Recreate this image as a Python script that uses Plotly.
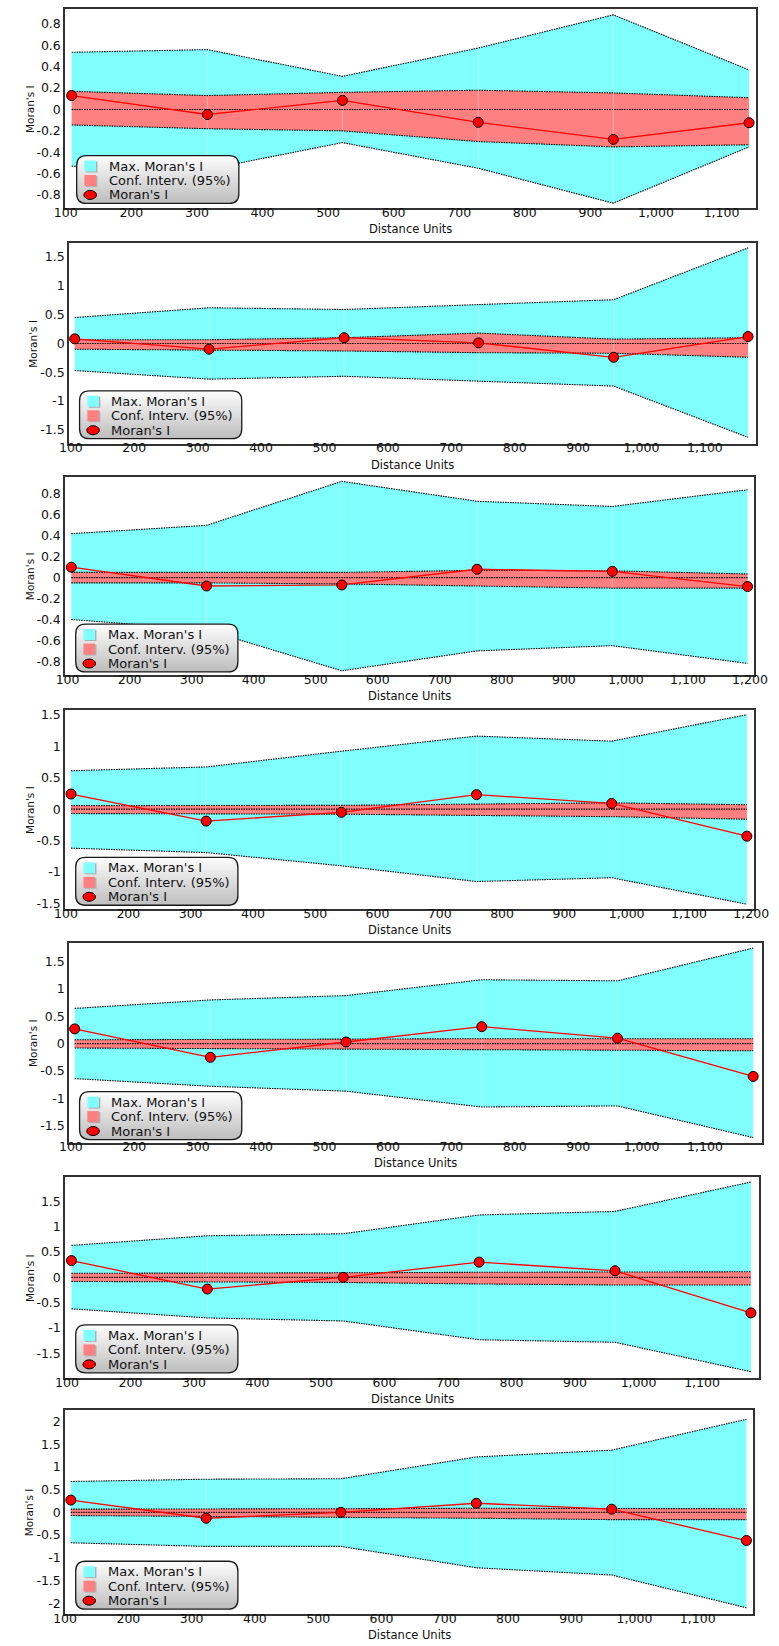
import math
import plotly.graph_objects as go

# ---------------- data ----------------
DIST = [
    [109, 316, 522, 729, 935, 1142],
    [106, 318, 531, 743, 956, 1168],
    [106, 324, 542, 760, 978, 1196],
    [108, 325, 542, 759, 976, 1193],
    [106, 320, 534, 748, 962, 1176],
    [107, 321, 535, 749, 963, 1177],
    [109, 323, 536, 750, 964, 1177],
]
MAX_UP = [
    [0.535, 0.56, 0.31, 0.575, 0.885, 0.37],
    [0.45, 0.62, 0.59, 0.68, 0.76, 1.66],
    [0.42, 0.50, 0.92, 0.73, 0.68, 0.84],
    [0.61, 0.67, 0.92, 1.16, 1.08, 1.50],
    [0.645, 0.80, 0.88, 1.17, 1.15, 1.75],
    [0.63, 0.82, 0.86, 1.23, 1.30, 1.88],
    [0.68, 0.73, 0.74, 1.22, 1.37, 2.05],
]
MAX_LO = [
    [-0.53, -0.56, -0.31, -0.55, -0.876, -0.35],
    [-0.47, -0.62, -0.57, -0.66, -0.74, -1.63],
    [-0.40, -0.50, -0.89, -0.70, -0.65, -0.82],
    [-0.62, -0.69, -0.90, -1.15, -1.09, -1.51],
    [-0.64, -0.78, -0.87, -1.16, -1.14, -1.72],
    [-0.62, -0.80, -0.86, -1.23, -1.28, -1.86],
    [-0.67, -0.75, -0.75, -1.22, -1.38, -2.10],
]
CI_UP = [
    [0.17, 0.13, 0.16, 0.18, 0.155, 0.11],
    [0.065, 0.065, 0.10, 0.18, 0.075, 0.10],
    [0.05, 0.05, 0.05, 0.07, 0.065, 0.035],
    [0.055, 0.055, 0.06, 0.08, 0.10, 0.07],
    [0.07, 0.08, 0.08, 0.09, 0.09, 0.09],
    [0.08, 0.08, 0.09, 0.10, 0.11, 0.11],
    [0.07, 0.07, 0.08, 0.09, 0.09, 0.08],
]
CI_LO = [
    [-0.145, -0.18, -0.20, -0.30, -0.35, -0.33],
    [-0.10, -0.11, -0.13, -0.16, -0.17, -0.24],
    [-0.05, -0.05, -0.06, -0.08, -0.10, -0.10],
    [-0.07, -0.07, -0.08, -0.10, -0.12, -0.16],
    [-0.08, -0.09, -0.10, -0.12, -0.13, -0.13],
    [-0.08, -0.09, -0.10, -0.13, -0.15, -0.15],
    [-0.07, -0.09, -0.10, -0.13, -0.16, -0.16],
]
MORAN = [
    [0.13, -0.047, 0.085, -0.12, -0.28, -0.124],
    [0.08, -0.10, 0.10, 0.01, -0.24, 0.12],
    [0.10, -0.08, -0.07, 0.08, 0.06, -0.085],
    [0.24, -0.19, -0.05, 0.23, 0.09, -0.43],
    [0.27, -0.25, 0.03, 0.31, 0.10, -0.60],
    [0.33, -0.23, 0.00, 0.30, 0.13, -0.70],
    [0.27, -0.13, 0.00, 0.20, 0.07, -0.62],
]
Y_TICKS = [
    [-0.8, -0.6, -0.4, -0.2, 0, 0.2, 0.4, 0.6, 0.8],
    [-1.5, -1, -0.5, 0, 0.5, 1, 1.5],
    [-0.8, -0.6, -0.4, -0.2, 0, 0.2, 0.4, 0.6, 0.8],
    [-1.5, -1, -0.5, 0, 0.5, 1, 1.5],
    [-1.5, -1, -0.5, 0, 0.5, 1, 1.5],
    [-1.5, -1, -0.5, 0, 0.5, 1, 1.5],
    [-2, -1.5, -1, -0.5, 0, 0.5, 1, 1.5, 2],
]
X_TICKS = [
    [100, 200, 300, 400, 500, 600, 700, 800, 900, 1000, 1100],
    [100, 200, 300, 400, 500, 600, 700, 800, 900, 1000, 1100],
    [100, 200, 300, 400, 500, 600, 700, 800, 900, 1000, 1100, 1200],
    [100, 200, 300, 400, 500, 600, 700, 800, 900, 1000, 1100, 1200],
    [100, 200, 300, 400, 500, 600, 700, 800, 900, 1000, 1100],
    [100, 200, 300, 400, 500, 600, 700, 800, 900, 1000, 1100],
    [100, 200, 300, 400, 500, 600, 700, 800, 900, 1000, 1100],
]
LEGEND_LABELS = ["Max. Moran's I", "Conf. Interv. (95%)", "Moran's I"]
X_TITLE = "Distance Units"
Y_TITLE = "Moran's I"

# ---------------- layout (pixels) ----------------
W, H = 779, 1646
BOXES = [(55, 771, 6, 206), (59, 771, 241, 442), (55, 769, 475, 674),
         (55, 769, 709, 909), (59, 777, 943, 1143), (55, 774, 1178, 1379),
         (55, 768, 1411, 1616)]
X_RANGES = [(99, 1153), (97, 1181), (96, 1207), (98.5, 1205), (97, 1190),
            (97, 1190), (100, 1188)]
Y_RANGES = [(-0.925, 0.94), (-1.74, 1.74), (-0.93, 0.966), (-1.59, 1.577),
            (-1.81, 1.84), (-1.98, 1.97), (-2.24, 2.26)]
LEG_POS = [(67, 153), (70, 389), (66, 623), (66, 857), (70, 1092), (66, 1326),
           (66, 1563)]
LEG_W, LEG_H = 168, 48

CYAN = "rgb(128,255,255)"
PINK = "rgb(255,128,128)"
FONT = "DejaVu Sans"


def px(x):
    return x / W


def py(y):
    return 1 - y / H


fig = go.Figure()
shapes = []
annotations = []

for k in range(7):
    xs = "x" if k == 0 else f"x{k+1}"
    ys = "y" if k == 0 else f"y{k+1}"
    d = DIST[k]
    # cyan band
    fig.add_trace(go.Scatter(x=d, y=MAX_LO[k], mode="lines", line=dict(width=0),
                             xaxis=xs, yaxis=ys, showlegend=False, hoverinfo="skip"))
    fig.add_trace(go.Scatter(x=d, y=MAX_UP[k], mode="lines", line=dict(width=0),
                             fill="tonexty", fillcolor=CYAN,
                             xaxis=xs, yaxis=ys, showlegend=False, hoverinfo="skip"))
    # red band
    fig.add_trace(go.Scatter(x=d, y=CI_LO[k], mode="lines", line=dict(width=0),
                             xaxis=xs, yaxis=ys, showlegend=False, hoverinfo="skip"))
    fig.add_trace(go.Scatter(x=d, y=CI_UP[k], mode="lines", line=dict(width=0),
                             fill="tonexty", fillcolor=PINK,
                             xaxis=xs, yaxis=ys, showlegend=False, hoverinfo="skip"))
    # faint vertical seams at each lag
    sx, sy = [], []
    for i, xv in enumerate(d[1:-1], start=1):
        sx += [xv, xv, None]
        sy += [MAX_LO[k][i], MAX_UP[k][i], None]
    fig.add_trace(go.Scatter(x=sx, y=sy, mode="lines",
                             line=dict(color="rgba(255,255,255,0.35)", width=1),
                             xaxis=xs, yaxis=ys, showlegend=False, hoverinfo="skip"))
    # dotted boundaries + zero line
    bx, by = [], []
    for arr in (MAX_UP[k], MAX_LO[k], CI_UP[k], CI_LO[k]):
        bx += list(d) + [None]
        by += list(arr) + [None]
    bx += [d[0], d[-1]]
    by += [0, 0]
    fig.add_trace(go.Scatter(x=bx, y=by, mode="lines",
                             line=dict(color="#000000", width=1.1, dash="1.5px,1px"),
                             xaxis=xs, yaxis=ys, showlegend=False, hoverinfo="skip"))
    # Moran's I
    fig.add_trace(go.Scatter(x=d, y=MORAN[k], mode="lines+markers",
                             line=dict(color="#ff0000", width=1.3),
                             marker=dict(size=10, color="#ff0000",
                                         line=dict(color="#000000", width=1)),
                             xaxis=xs, yaxis=ys, showlegend=False))

    L, R, T, B = BOXES[k]
    common = dict(showgrid=False, zeroline=False, showline=True, mirror=True,
                  linecolor="#333333", linewidth=1.6, ticks="",
                  tickfont=dict(family=FONT, size=12.5, color="#111111"))
    fig.update_layout(**{
        ("xaxis" if k == 0 else f"xaxis{k+1}"): dict(
            domain=[px(L), px(R)], range=list(X_RANGES[k]), anchor=ys,
            tickvals=X_TICKS[k], ticktext=[f"{v:,}" for v in X_TICKS[k]],
            ticklabelstandoff=-8, ticklabeloverflow="allow", **common),
        ("yaxis" if k == 0 else f"yaxis{k+1}"): dict(
            domain=[py(B), py(T)], range=list(Y_RANGES[k]), anchor=xs,
            tickvals=Y_TICKS[k], ticktext=[f"{v:g}" for v in Y_TICKS[k]],
            ticklabelstandoff=0, ticklabeloverflow="allow", **common),
    })

    annotations.append(dict(x=px((L + R) / 2), y=py(B + 21), xref="paper", yref="paper",
                            text=X_TITLE, showarrow=False, xanchor="center", yanchor="middle",
                            font=dict(family=FONT, size=11.5, color="#111111")))
    annotations.append(dict(x=px(L - 37), y=py((T + B) / 2), xref="paper", yref="paper",
                            text=Y_TITLE, showarrow=False, textangle=-90,
                            xanchor="center", yanchor="middle",
                            font=dict(family=FONT, size=10.5, color="#111111")))

    # ---------- legend box (rounded, gradient) ----------
    lx, ly = LEG_POS[k]
    r = 10.0
    N = 24

    def inset(yrel):
        if yrel < r:
            dd = r - yrel
        elif yrel > LEG_H - r:
            dd = yrel - (LEG_H - r)
        else:
            return 0.0
        return r - math.sqrt(max(r * r - dd * dd, 0.0))

    for i in range(N):
        y0 = LEG_H * i / N
        y1 = min(LEG_H * (i + 1) / N + 0.6, LEG_H)
        samples = [y0 + (y1 - y0) * j / 4 for j in range(5)]
        left = [(lx + inset(s), ly + s) for s in samples]
        right = [(lx + LEG_W - inset(s), ly + s) for s in reversed(samples)]
        pts = left + right
        path = "M " + " L ".join(f"{px(a):.6f},{py(b):.6f}" for a, b in pts) + " Z"
        t = i / (N - 1)
        c = int(round(252 - t * 62))
        shapes.append(dict(type="path", path=path, xref="paper", yref="paper",
                           fillcolor=f"rgb({c},{c},{c})", line=dict(width=0),
                           layer="above"))
    # outline
    x0, x1, y0, y1 = lx, lx + LEG_W, ly, ly + LEG_H
    P = lambda a, b: f"{px(a):.6f},{py(b):.6f}"
    outline = (f"M {P(x0 + r, y0)} L {P(x1 - r, y0)} Q {P(x1, y0)} {P(x1, y0 + r)} "
               f"L {P(x1, y1 - r)} Q {P(x1, y1)} {P(x1 - r, y1)} "
               f"L {P(x0 + r, y1)} Q {P(x0, y1)} {P(x0, y1 - r)} "
               f"L {P(x0, y0 + r)} Q {P(x0, y0)} {P(x0 + r, y0)} Z")
    shapes.append(dict(type="path", path=outline, xref="paper", yref="paper",
                       line=dict(color="#1a1a1a", width=1.3), layer="above"))
    rows = [ly + 10.5, ly + 25, ly + 39.5]
    for j, (cy, col) in enumerate(zip(rows[:2], [CYAN, PINK])):
        shapes.append(dict(type="rect", xref="paper", yref="paper",
                           x0=px(lx + 9.5), x1=px(lx + 21.5), y0=py(cy + 6.5), y1=py(cy - 4.5),
                           fillcolor="rgb(175,175,175)", line=dict(width=0), layer="above"))
        shapes.append(dict(type="rect", xref="paper", yref="paper",
                           x0=px(lx + 8), x1=px(lx + 20), y0=py(cy + 5.5), y1=py(cy - 5.5),
                           fillcolor=col, line=dict(width=0), layer="above"))
    shapes.append(dict(type="circle", xref="paper", yref="paper",
                       x0=px(lx + 7.5), x1=px(lx + 20.5), y0=py(rows[2] + 4.5), y1=py(rows[2] - 4.5),
                       fillcolor="#ff0000", line=dict(color="#000000", width=1), layer="above"))
    for cy, lab in zip(rows, LEGEND_LABELS):
        annotations.append(dict(x=px(lx + 31), y=py(cy), xref="paper", yref="paper",
                                text=lab, showarrow=False, xanchor="left", yanchor="middle",
                                font=dict(family=FONT, size=13, color="#111111")))

fig.update_layout(width=W, height=H, margin=dict(l=0, r=0, t=0, b=0),
                  paper_bgcolor="white", plot_bgcolor="white",
                  showlegend=False, shapes=shapes, annotations=annotations)

fig.write_html("out.html")
